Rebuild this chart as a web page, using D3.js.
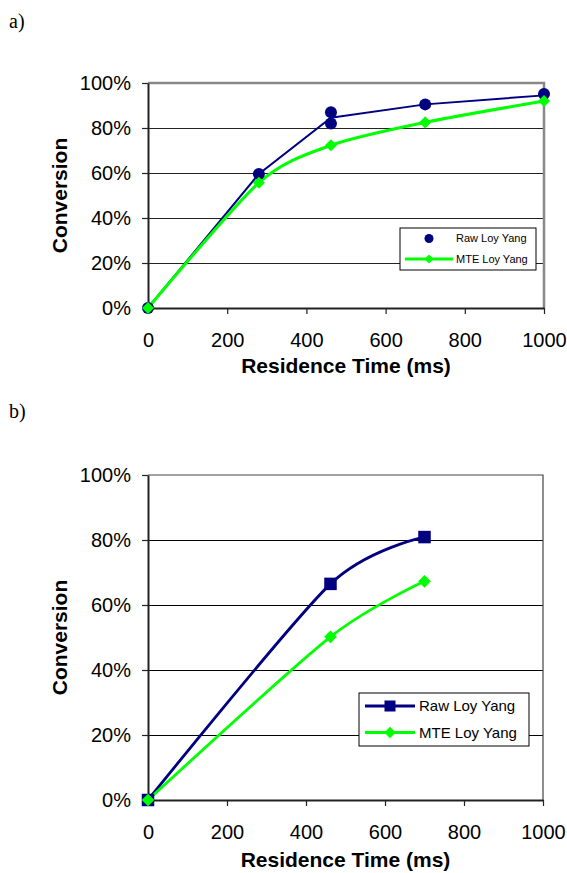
<!DOCTYPE html>
<html>
<head>
<meta charset="utf-8">
<script src="https://cdn.jsdelivr.net/npm/d3@7"></script>
<style>
  body { margin: 0; background: #fff; }
  svg { display: block; }
</style>
</head>
<body>
<script>
// values
const xTicks = [0, 200, 400, 600, 800, 1000]
const yTicks = [0, 0.2, 0.4, 0.6, 0.8, 1]

// panel a
const rawTimeA = [0, 280, 462, 462, 700, 1000]
const rawConvA = [0, 0.596, 0.87, 0.82, 0.905, 0.951]
const rawLineTimeA = [0, 280, 462, 700, 1000]
const rawLineConvA = [0, 0.596, 0.846, 0.905, 0.945]
const mteTimeA = [0, 280, 462, 700, 1000]
const mteConvA = [0, 0.557, 0.723, 0.825, 0.92]

// panel b
const rawTimeB = [0, 462, 700]
const rawConvB = [0, 0.665, 0.809]
const mteTimeB = [0, 462, 700]
const mteConvB = [0, 0.502, 0.673]

const NAVY = '#000080'
const LIME = '#00ff00'
const SANS = '"Liberation Sans", Arial, sans-serif'
const smooth = d3.curveCardinal.tension(0.2)

const zip = (xs, ys) => xs.map((x, i) => ({ x, y: ys[i] }))

const svg = d3.select('body').append('svg')
  .attr('width', 567)
  .attr('height', 873)

function diamond (size) {
  return d3.symbol(d3.symbolSquare, size)()
}

function drawPanel (opt) {
  const x = d3.scaleLinear().domain([0, 1000]).range([148, opt.right])
  const y = d3.scaleLinear().domain([0, 1]).range([opt.bottom, opt.top])
  const g = svg.append('g')

  g.append('text')
    .attr('x', 9).attr('y', opt.labelY)
    .style('font-family', '"Liberation Serif", "Times New Roman", serif')
    .style('font-size', '20px')
    .text(opt.label)

  // gridlines
  g.selectAll('line.grid')
    .data(yTicks.filter(d => d > 0 && d < 1))
    .enter().append('line')
    .attr('class', 'grid')
    .attr('x1', x(0)).attr('x2', x(1000))
    .attr('y1', d => y(d) + 0.5).attr('y2', d => y(d) + 0.5)
    .attr('stroke', opt.gridColor)
    .attr('stroke-width', 1)

  // top / right frame
  g.append('path')
    .attr('d', `M${x(0)},${y(1)}H${x(1000)}V${y(0)}`)
    .attr('fill', 'none')
    .attr('stroke', opt.frameColor)
    .attr('stroke-width', opt.frameWidth)

  const yAxis = g.append('g')
    .attr('transform', `translate(${x(0)},0)`)
    .call(d3.axisLeft(y).tickValues(yTicks).tickFormat(d3.format('.0%'))
      .tickSize(6).tickPadding(11).tickSizeOuter(0))
  const xAxis = g.append('g')
    .attr('transform', `translate(0,${y(0)})`)
    .call(d3.axisBottom(x).tickValues(xTicks).tickFormat(d3.format('d'))
      .tickSize(6).tickPadding(19).tickSizeOuter(0))

  for (const ax of [yAxis, xAxis]) {
    ax.select('.domain').attr('stroke', '#222').attr('stroke-width', 2)
    ax.selectAll('.tick line').attr('stroke', '#222').attr('stroke-width', 1.2)
    ax.selectAll('.tick text')
      .attr('fill', '#000')
      .style('font-family', SANS)
      .style('font-size', '20px')
  }

  g.append('text')
    .attr('x', (x(0) + x(1000)) / 2).attr('y', opt.xTitleY)
    .attr('text-anchor', 'middle')
    .style('font-family', SANS).style('font-size', '21px').style('font-weight', 'bold')
    .text('Residence Time (ms)')

  g.append('text')
    .attr('transform', `translate(67,${(y(0) + y(1)) / 2}) rotate(-90)`)
    .attr('text-anchor', 'middle')
    .style('font-family', SANS).style('font-size', '21px').style('font-weight', 'bold')
    .text('Conversion')

  // lines
  for (const s of opt.lines) {
    g.append('path')
      .datum(s.data)
      .attr('d', d3.line().x(d => x(d.x)).y(d => y(d.y)).curve(s.curve))
      .attr('fill', 'none')
      .attr('stroke', s.color)
      .attr('stroke-width', s.width)
  }

  // markers
  for (const m of opt.markers) {
    const sel = g.selectAll(null).data(m.data).enter()
    if (m.type === 'circle') {
      sel.append('circle')
        .attr('cx', d => x(d.x)).attr('cy', d => y(d.y))
        .attr('r', m.size).attr('fill', m.color)
    } else if (m.type === 'square') {
      sel.append('rect')
        .attr('x', d => x(d.x) - m.size / 2).attr('y', d => y(d.y) - m.size / 2)
        .attr('width', m.size).attr('height', m.size).attr('fill', m.color)
    } else {
      sel.append('path')
        .attr('d', diamond(m.size * m.size))
        .attr('transform', d => `translate(${x(d.x)},${y(d.y)}) rotate(45)`)
        .attr('fill', m.color)
    }
  }

  // legend
  const L = opt.legend
  const lg = g.append('g')
  lg.append('rect')
    .attr('x', L.x).attr('y', L.y).attr('width', L.w).attr('height', L.h)
    .attr('fill', '#fff').attr('stroke', '#000').attr('stroke-width', 1)
  L.items.forEach((it, i) => {
    const cy = L.rowY[i]
    if (it.line) {
      lg.append('line')
        .attr('x1', L.lineX[0]).attr('x2', L.lineX[1])
        .attr('y1', cy).attr('y2', cy)
        .attr('stroke', it.color).attr('stroke-width', it.lineWidth)
    }
    const mx = (L.lineX[0] + L.lineX[1]) / 2
    if (it.type === 'circle') {
      lg.append('circle').attr('cx', mx).attr('cy', cy).attr('r', it.size).attr('fill', it.color)
    } else if (it.type === 'square') {
      lg.append('rect').attr('x', mx - it.size / 2).attr('y', cy - it.size / 2)
        .attr('width', it.size).attr('height', it.size).attr('fill', it.color)
    } else {
      lg.append('path').attr('d', diamond(it.size * it.size))
        .attr('transform', `translate(${mx},${cy}) rotate(45)`).attr('fill', it.color)
    }
    lg.append('text')
      .attr('x', L.textX).attr('y', cy).attr('dy', '0.35em')
      .style('font-family', SANS).style('font-size', L.fontSize)
      .text(it.name)
  })
}

drawPanel({
  label: 'a)', labelY: 28,
  top: 83, bottom: 308, right: 544,
  xTitleY: 373,
  gridColor: '#222', frameColor: '#888', frameWidth: 2.5,
  lines: [
    { data: zip(rawLineTimeA, rawLineConvA), color: NAVY, width: 2, curve: d3.curveLinear },
    { data: zip(mteTimeA, mteConvA), color: LIME, width: 3, curve: smooth }
  ],
  markers: [
    { data: zip(rawTimeA, rawConvA), type: 'circle', color: NAVY, size: 6 },
    { data: zip(mteTimeA, mteConvA), type: 'diamond', color: LIME, size: 8.5 }
  ],
  legend: {
    x: 400, y: 228, w: 136, h: 42,
    rowY: [238.5, 259], lineX: [405, 453], textX: 456, fontSize: '11px',
    items: [
      { name: 'Raw Loy Yang', type: 'circle', color: NAVY, size: 4.5, line: false },
      { name: 'MTE Loy Yang', type: 'diamond', color: LIME, size: 6.5, line: true, lineWidth: 3 }
    ]
  }
})

drawPanel({
  label: 'b)', labelY: 418,
  top: 475, bottom: 800, right: 543,
  xTitleY: 867,
  gridColor: '#000', frameColor: '#444', frameWidth: 1.2,
  lines: [
    { data: zip(rawTimeB, rawConvB), color: NAVY, width: 2.8, curve: smooth },
    { data: zip(mteTimeB, mteConvB), color: LIME, width: 2.8, curve: smooth }
  ],
  markers: [
    { data: zip(rawTimeB, rawConvB), type: 'square', color: NAVY, size: 12.5 },
    { data: zip(mteTimeB, mteConvB), type: 'diamond', color: LIME, size: 9 }
  ],
  legend: {
    x: 359, y: 693, w: 170, h: 53,
    rowY: [706, 732.5], lineX: [365, 415], textX: 419, fontSize: '15px',
    items: [
      { name: 'Raw Loy Yang', type: 'square', color: NAVY, size: 11, line: true, lineWidth: 2.8 },
      { name: 'MTE Loy Yang', type: 'diamond', color: LIME, size: 8, line: true, lineWidth: 2.8 }
    ]
  }
})
</script>
</body>
</html>
